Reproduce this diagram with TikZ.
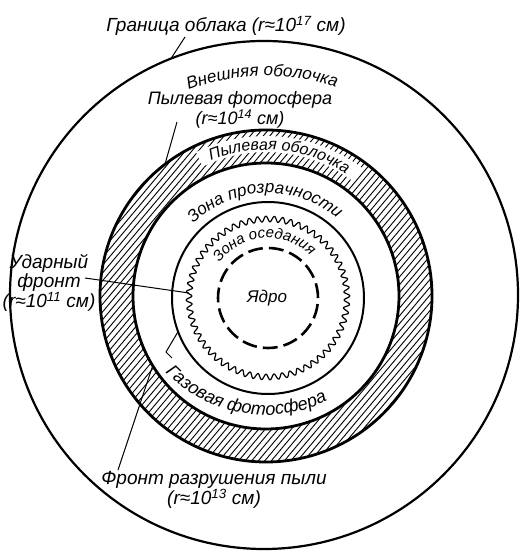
\documentclass[tikz,border=0pt]{standalone}
\usepackage{fontspec}
\setmainfont{Liberation Sans}
\usetikzlibrary{decorations.text}
\newcommand{\pw}[1]{\textsuperscript{#1}}
\newcommand{\cfont}[1]{\fontsize{#1}{#1}\selectfont\itshape}
\begin{document}
\begin{tikzpicture}[x=1pt,y=1pt,
  lbl/.style={font=\fontsize{19}{16}\selectfont\itshape, inner sep=0pt, align=center},
  leader/.style={line width=1pt},
  ringline/.style={line width=2.8pt},
  hatchline/.style={line width=0.9pt},
  curv/.style={decorate, decoration={text along path, text align=center, text format delimiters={|}{|}}}]
\fill[white] (0,0) rectangle (520,551);
\useasboundingbox (0,0) rectangle (520,551);
\coordinate (O) at (264,256);
\coordinate (Ch) at (266,255);
\coordinate (Ci) at (268,253);
\coordinate (Cg) at (266,276);
% outer cloud boundary
\draw[line width=2.2pt] (O) circle[radius=254];
% hatched dust shell
\begin{scope}[even odd rule]
  \clip (Ch) circle[radius=166] (Ch) circle[radius=133];
  \begin{scope}[shift={(Ch)}, rotate=50]
    \foreach \d in {-170,-165,...,170} \draw[hatchline] (-170,\d) -- (170,\d);
  \end{scope}
  \draw[white, line width=16pt, shift={(Ch)}] (116:152) arc[start angle=116, end angle=53, radius=152];
\end{scope}
\draw[ringline] (Ch) circle[radius=166];
\draw[ringline] (Ch) circle[radius=133];
% transparency zone boundary (gas photosphere)
\draw[line width=2pt] (Ci) circle[radius=96];
% shock front (wavy)
\draw[line width=1.2pt] plot[domain=0:60, samples=1441] ({268+(79+2.8*sin(360*(\x-floor(\x))))*cos(6*\x)}, {253+(79+2.8*sin(360*(\x-floor(\x))))*sin(6*\x)}) -- cycle;
% core
\draw[line width=2.6pt, dash pattern=on 14.9pt off 6.04pt] (Ci) circle[radius=50];
\node[lbl, font=\cfont{17}] (core) at (267,253) {Ядро};

% curved labels
\path[font=\cfont{17}, curv, decoration={text={|\cfont{17}|Внешняя оболочка}}, shift={(Ch)}]
  (136:220) arc[start angle=136, end angle=46, radius=220];
\path[font=\cfont{16}, curv, decoration={text={|\cfont{16}|Пылевая оболочка}}, shift={(Ch)}]
  (130:146) arc[start angle=130, end angle=39, radius=146];
\path[font=\cfont{17}, curv, decoration={text={|\cfont{17}|Зона прозрачности}}, shift={(Ci)}]
  (150:105) arc[start angle=150, end angle=34, radius=105];
\path[font=\cfont{15}, curv, decoration={text={|\cfont{15}|Зона оседания}}, shift={(Ci)}]
  (165:60) arc[start angle=165, end angle=24, radius=60];
\path[font=\cfont{18}, curv, decoration={text={|\cfont{18}|Газовая фотосфера}}, shift={(Cg)}]
  (205:140) arc[start angle=205, end angle=315, radius=140];

% straight labels
\node[lbl] (gran) at (226,525) {Граница облака (r≈10\pw{17} см)};
\node[lbl, font=\fontsize{18}{18}\selectfont\itshape] (pf) at (240,441) {Пылевая фотосфера\\(r≈10\pw{14} см)};
\node[lbl] (ud) at (49,268) {Ударный\\фронт\\(r≈10\pw{11} см)};
\node[lbl, font=\fontsize{19}{17.5}\selectfont\itshape] (fr) at (214,61) {Фронт разрушения пыли\\(r≈10\pw{13} см)};

% leader end points
\coordinate (granStart) at (185,514);
\coordinate (granEnd) at ([shift={(111.5:254)}]O);
\coordinate (pfStart) at (177,429);
\coordinate (pfEnd) at ([shift={(127.5:166)}]Ch);
\coordinate (udStart) at (85,273);
\coordinate (udEnd) at ([shift={(176.4:79)}]Ci);
\coordinate (gfStart) at (172,193);
\coordinate (gfBend) at (166,199);
\coordinate (gfEnd) at ([shift={(200.5:96)}]Ci);
\coordinate (frStart) at (118,81);
\coordinate (frEnd) at ([shift={(211.6:133)}]Ch);
% leaders
\draw[leader] (granStart) -- (granEnd);
\draw[leader] (pfStart) -- (pfEnd);
\draw[leader] (udStart) -- (udEnd);
\draw[leader] (gfStart) -- (gfBend) -- (gfEnd);
\draw[leader] (frStart) -- (frEnd);
\end{tikzpicture}
\end{document}
